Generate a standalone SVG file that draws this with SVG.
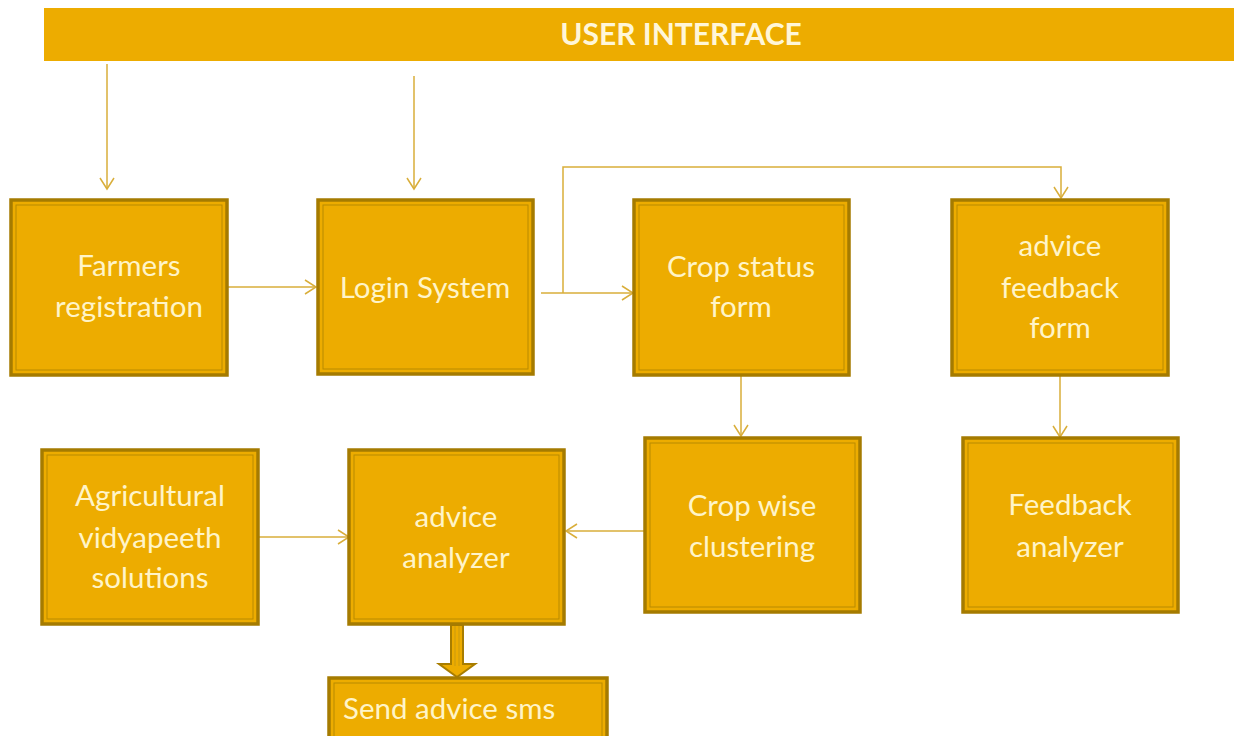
<svg xmlns="http://www.w3.org/2000/svg" width="1234" height="736" viewBox="0 0 1234 736">
<style>
.box{fill:#EDAC00;stroke:#A57B00;stroke-width:3.5}
.inner{fill:none;stroke:#B88A00;stroke-width:1}
.lbl{font-family:Lato,"Open Sans",sans-serif;font-size:29.5px;fill:#FFF4C8;text-anchor:middle}
.con{fill:none;stroke:#D9AE3A;stroke-width:1.5}
</style>
<defs>
<marker id="ah" markerWidth="20" markerHeight="20" refX="12" refY="8" orient="auto" markerUnits="userSpaceOnUse">
<path d="M1,1 L12,8 L1,15" fill="none" stroke="#D9AE3A" stroke-width="1.5"/>
</marker>
</defs>
<rect width="1234" height="736" fill="#FFFFFF"/>
<g id="user-interface">
<rect x="44" y="8" width="1190" height="53" fill="#EDAC00"/>
<text x="681" y="45" font-family="Lato,'Open Sans',sans-serif" font-size="30" font-weight="bold" fill="#FFF6D8" text-anchor="middle">USER INTERFACE</text>
</g>
<g id="connectors">
<path class="con" d="M107,64 V189" marker-end="url(#ah)"/>
<path class="con" d="M414,76 V189" marker-end="url(#ah)"/>
<path class="con" d="M228,287 H316" marker-end="url(#ah)"/>
<path class="con" d="M541,293 H633" marker-end="url(#ah)"/>
<path class="con" d="M563,293 V167 H1061 V198" marker-end="url(#ah)"/>
<path class="con" d="M741,376 V436" marker-end="url(#ah)"/>
<path class="con" d="M1060,376 V437" marker-end="url(#ah)"/>
<path class="con" d="M258,537 H349" marker-end="url(#ah)"/>
<path class="con" d="M644,531 H566" marker-end="url(#ah)"/>
<path d="M451,625 H463 V664 H475 L457,677 L439,664 H451 Z" fill="#EDAC00" stroke="#A87D00" stroke-width="2"/>
<path d="M455,626 V666 M459,626 V666" stroke="#C99A10" stroke-width="1" fill="none"/>
</g>
<g id="farmers-registration">
<rect class="box" x="11" y="200" width="216" height="175"/>
<rect class="inner" x="16" y="205" width="206" height="165"/>
<text class="lbl" x="129" y="276">Farmers</text>
<text class="lbl" x="129" y="317">registration</text>
</g>
<g id="login-system">
<rect class="box" x="318" y="200" width="215" height="174"/>
<rect class="inner" x="323" y="205" width="205" height="164"/>
<text class="lbl" x="425" y="298">Login System</text>
</g>
<g id="crop-status-form">
<rect class="box" x="634" y="200" width="215" height="175"/>
<rect class="inner" x="639" y="205" width="205" height="165"/>
<text class="lbl" x="741" y="277">Crop status</text>
<text class="lbl" x="741" y="317">form</text>
</g>
<g id="advice-feedback-form">
<rect class="box" x="952" y="200" width="216" height="175"/>
<rect class="inner" x="957" y="205" width="206" height="165"/>
<text class="lbl" x="1060" y="256">advice</text>
<text class="lbl" x="1060" y="298">feedback</text>
<text class="lbl" x="1060" y="338">form</text>
</g>
<g id="agricultural-vidyapeeth-solutions">
<rect class="box" x="42" y="450" width="216" height="174"/>
<rect class="inner" x="47" y="455" width="206" height="164"/>
<text class="lbl" x="150" y="506">Agricultural</text>
<text class="lbl" x="150" y="548">vidyapeeth</text>
<text class="lbl" x="150" y="588">solutions</text>
</g>
<g id="advice-analyzer">
<rect class="box" x="349" y="450" width="215" height="174"/>
<rect class="inner" x="354" y="455" width="205" height="164"/>
<text class="lbl" x="456" y="527">advice</text>
<text class="lbl" x="456" y="568">analyzer</text>
</g>
<g id="crop-wise-clustering">
<rect class="box" x="645" y="438" width="215" height="174"/>
<rect class="inner" x="650" y="443" width="205" height="164"/>
<text class="lbl" x="752" y="516">Crop wise</text>
<text class="lbl" x="752" y="557">clustering</text>
</g>
<g id="feedback-analyzer">
<rect class="box" x="963" y="438" width="215" height="174"/>
<rect class="inner" x="968" y="443" width="205" height="164"/>
<text class="lbl" x="1070" y="515">Feedback</text>
<text class="lbl" x="1070" y="557">analyzer</text>
</g>
<g id="send-advice-sms">
<rect class="box" x="329" y="678" width="278" height="70"/>
<rect class="inner" x="334" y="683" width="268" height="60"/>
<text class="lbl" x="343" y="719" style="text-anchor:start">Send advice sms</text>
</g>
</svg>
